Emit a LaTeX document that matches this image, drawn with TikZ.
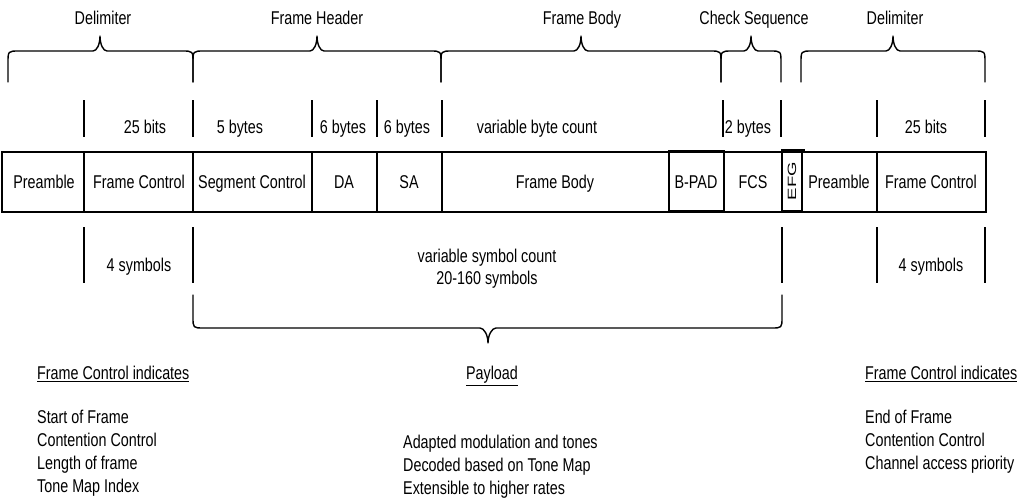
\documentclass[tikz,border=0pt]{standalone}
\usepackage{fontspec}
\setmainfont{Liberation Sans}[FakeStretch=0.775]
\newcommand\lblfont{\fontsize{18.5}{22}\selectfont}
% curly brace opening downwards, tip pointing up: left x, right x, tip x
\newcommand\upbrace[3]{%
  \draw[brace] (#1,82) -- (#1,63) .. controls (#1,51) .. ({#1+11},51)
    -- ({#3-7},51) .. controls ({#3-3},51) and (#3,44) .. (#3,36)
    .. controls (#3,44) and ({#3+3},51) .. ({#3+7},51)
    -- ({#2-11},51) .. controls (#2,51) .. (#2,63) -- (#2,82);}
\begin{document}
\begin{tikzpicture}[x=1pt,y=-1pt,
  txt/.style={inner sep=0pt,text height=13pt,text depth=0pt,font=\lblfont},
  head/.style={txt,anchor=west},
  item/.style={txt,anchor=west},
  brace/.style={line width=1.4pt,line join=round,line cap=round},
  tickA/.style={line width=2.4pt},
  tickB/.style={line width=1.2pt},
  frame/.style={line width=1.3pt},
  heavy/.style={line width=2.6pt}]
\useasboundingbox (0,0) rectangle (1022,501);

% ---- section braces and their titles
\upbrace{8}{193}{100}
\upbrace{193}{441}{317}
\upbrace{441}{721}{581}
\upbrace{721}{781}{751}
\upbrace{801}{985}{893}
\node[txt] (tDel1) at (103,18) {Delimiter};
\node[txt] (tHdr)  at (317,18) {Frame Header};
\node[txt] (tBody) at (582,18) {Frame Body};
\node[txt] (tChk)  at (754,18) {Check Sequence};
\node[txt] (tDel2) at (895,18) {Delimiter};

% ---- field sizes in bytes / bits
\foreach \x in {84,312,377,442,723} \draw[tickA] (\x,100) -- (\x,137);
\foreach \x in {193,781,877,985} \draw[tickB] (\x,100) -- (\x,137);
\node[txt] (b1) at (145,127) {25 bits};
\node[txt] (b2) at (240,127) {5 bytes};
\node[txt] (b3) at (343,127) {6 bytes};
\node[txt] (b4) at (407,127) {6 bytes};
\node[txt] (b5) at (537,127) {variable byte count};
\node[txt] (b6) at (748,127) {2 bytes};
\node[txt] (b7) at (926,127) {25 bits};

% ---- the frame fields
\draw[frame] (2,152) rectangle (986,212);
\draw[tickA] (84,152) -- (84,212);
\draw[tickB] (193,152) -- (193,212);
\draw[tickA] (312,152) -- (312,212);
\draw[tickA] (377,152) -- (377,212);
\draw[tickA] (442,152) -- (442,212);
\draw[tickB] (877,152) -- (877,212);
\draw[heavy] (669,151) rectangle (724,211);
\draw[heavy] (782,150) rectangle (802,211);
\draw[frame] (802,150) -- (805,150);
\node[txt] (fPre1) at (44,182) {Preamble};
\node[txt] (fFC1)  at (139,182) {Frame Control};
\node[txt] (fSeg)  at (252,182) {Segment Control};
\node[txt] (fDA)   at (344,182) {DA};
\node[txt] (fSA)   at (409,182) {SA};
\node[txt] (fBody) at (555,182) {Frame Body};
\node[txt] (fPad)  at (696,182) {B-PAD};
\node[txt] (fFCS)  at (753,182) {FCS};
\node[inner sep=0pt,rotate=90] (fEFG) at (792,181)
  {\scalebox{2}[1]{\fontsize{12}{12}\selectfont EFG}};
\node[txt] (fPre2) at (839,182) {Preamble};
\node[txt] (fFC2)  at (931,182) {Frame Control};

% ---- field sizes in symbols
\foreach \x in {84,782,985} \draw[tickA] (\x,227) -- (\x,283);
\foreach \x in {193,877} \draw[tickB] (\x,227) -- (\x,283);
\node[txt] (s1) at (139,265) {4 symbols};
\node[txt] (s2) at (931,265) {4 symbols};
\node[txt] (s3) at (487,256) {variable symbol count};
\node[txt] (s4) at (487,278) {20-160 symbols};

% ---- payload brace (tip pointing down)
\draw[brace] (193,295) -- (193,317) .. controls (193,328) .. (204,328)
  -- (480,328) .. controls (484,328) and (488,335) .. (488,343)
  .. controls (488,335) and (492,328) .. (496,328)
  -- (771,328) .. controls (782,328) .. (782,317) -- (782,295);

% ---- notes
\node[head] (hL) at (37,373) {\underline{Frame Control indicates}};
\node[txt]  (hM) at (492,373) {\underline{Payload}};
\node[head] (hR) at (865,373) {\underline{Frame Control indicates}};

\node[item] (l1) at (37,417) {Start of Frame};
\node[item] (l2) at (37,440) {Contention Control};
\node[item] (l3) at (37,463) {Length of frame};
\node[item] (l4) at (37,486) {Tone Map Index};

\node[item] (m1) at (403,442) {Adapted modulation and tones};
\node[item] (m2) at (403,465) {Decoded based on Tone Map};
\node[item] (m3) at (403,488) {Extensible to higher rates};

\node[item] (r1) at (865,417) {End of Frame};
\node[item] (r2) at (865,440) {Contention Control};
\node[item] (r3) at (865,463) {Channel access priority};
\end{tikzpicture}
\end{document}
